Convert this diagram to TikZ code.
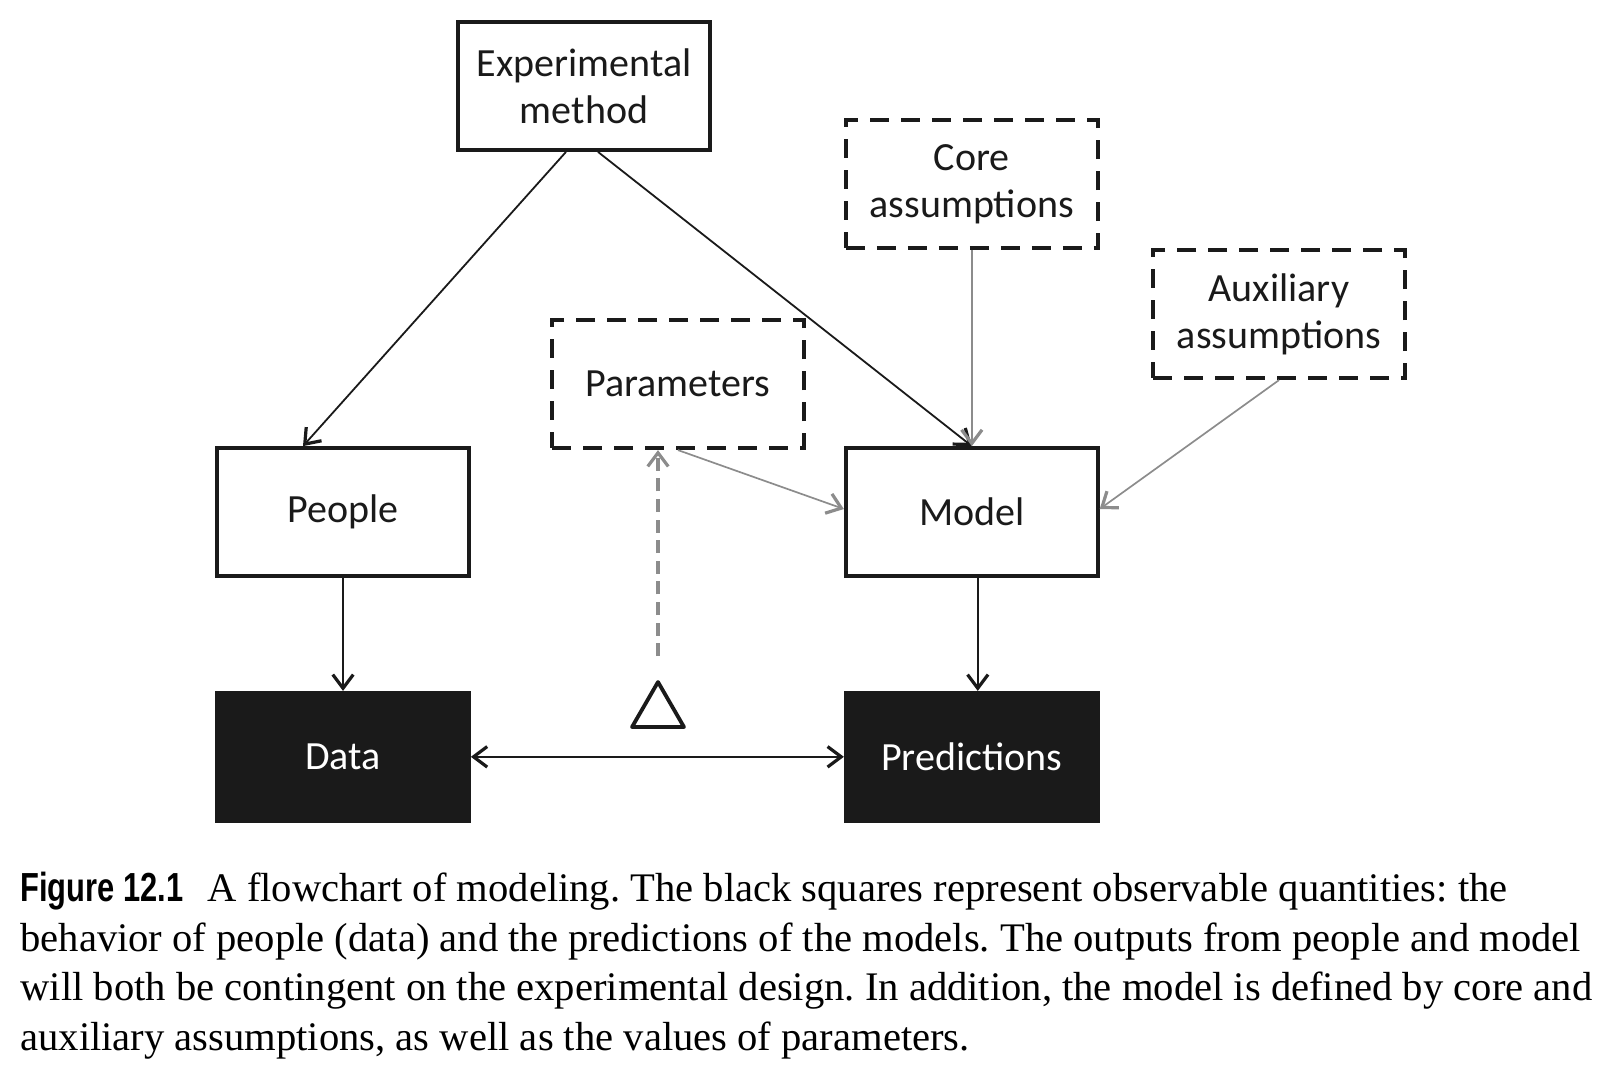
\documentclass[tikz,border=0pt]{standalone}
\usepackage{fontspec}
\setmainfont{Carlito}
\newfontfamily\capfont{Liberation Serif}
\newfontfamily\figlabel[FakeStretch=0.76]{Liberation Sans}
\usepackage{xcolor}
\usetikzlibrary{arrows.meta,positioning,shapes.geometric}
\definecolor{ink}{HTML}{1A1A1A}
\definecolor{faint}{HTML}{8C8C8C}

\begin{document}
\begin{tikzpicture}[
  x=0.5pt, y=-0.5pt,
  font=\fontsize{20}{23.5}\selectfont,
  >={Straight Barb[length=2.4mm,width=3.6mm,line width=1.6pt]},
  box/.style={draw=ink, line width=1.9pt, fill=white, text=ink, align=center, inner sep=2pt, minimum width=126pt, minimum height=64pt},
  hyp/.style={box, line width=2.1pt, dash pattern=on 9.5pt off 6pt},
  obs/.style={box, fill=ink, text=white},
  arr/.style={->, line width=0.9pt, ink},
  garr/.style={arr, faint, line width=0.85pt},
  fitarr/.style={->, line width=2.2pt, faint, dash pattern=on 6.5pt off 3.8pt}
]
  \useasboundingbox (0,0) rectangle (1618,1084);

  % what is observed and what produces it
  \node[box] (people) at (343,512) {People};
  \node[box, right=186.5pt of people] (model) {Model};
  \node[obs, below=56.5pt of people] (data) {Data};
  \node[obs, below=56.5pt of model] (pred) {Predictions};

  % design and the ingredients of the model
  \node[box] (exp) at (584,86) {Experimental\\method};
  \node[hyp, above=98pt of model] (core) {Core\\assumptions};
  \node[hyp] (aux) at (1279,314) {Auxiliary\\assumptions};
  \node[hyp] (param) at (678,384) {Parameters};
  \node[draw=ink, line width=1.9pt, fill=white, line join=round, regular polygon, regular polygon sides=3, minimum size=30pt, inner sep=0pt] (delta) at (658,712) {};

  \draw[arr] ([xshift=-9pt]exp.south) -- ([xshift=-20pt]people.north);
  \draw[arr] ([xshift=7pt]exp.south) -- (model.north);
  \draw[garr] (core.south) -- (model.north);
  \draw[garr] (aux.south) -- ([yshift=1.5pt]model.east);
  \draw[garr] (param.south) -- ([yshift=1.5pt]model.west);
  \draw[fitarr] ([yshift=11pt]delta.north) -- (delta.north |- param.south);
  \draw[arr] (people) -- (data);
  \draw[arr] ([xshift=3pt]model.south) -- ([xshift=3pt]pred.north);
  \draw[arr, <->] (data) -- (pred);

  \node[anchor=north west, align=left, inner sep=0pt, text=black, font=\capfont\fontsize{20.3}{24.75}\selectfont\frenchspacing] (caption) at (20,872)
    {{\figlabel\bfseries Figure 12.1}\hspace{0.6em}A flowchart of modeling. The black squares represent observable quantities: the\\
     behavior of people (data) and the predictions of the models. The outputs from people and model\\
     will both be contingent on the experimental design. In addition, the model is defined by core and\\
     auxiliary assumptions, as well as the values of parameters.};
\end{tikzpicture}
\end{document}
